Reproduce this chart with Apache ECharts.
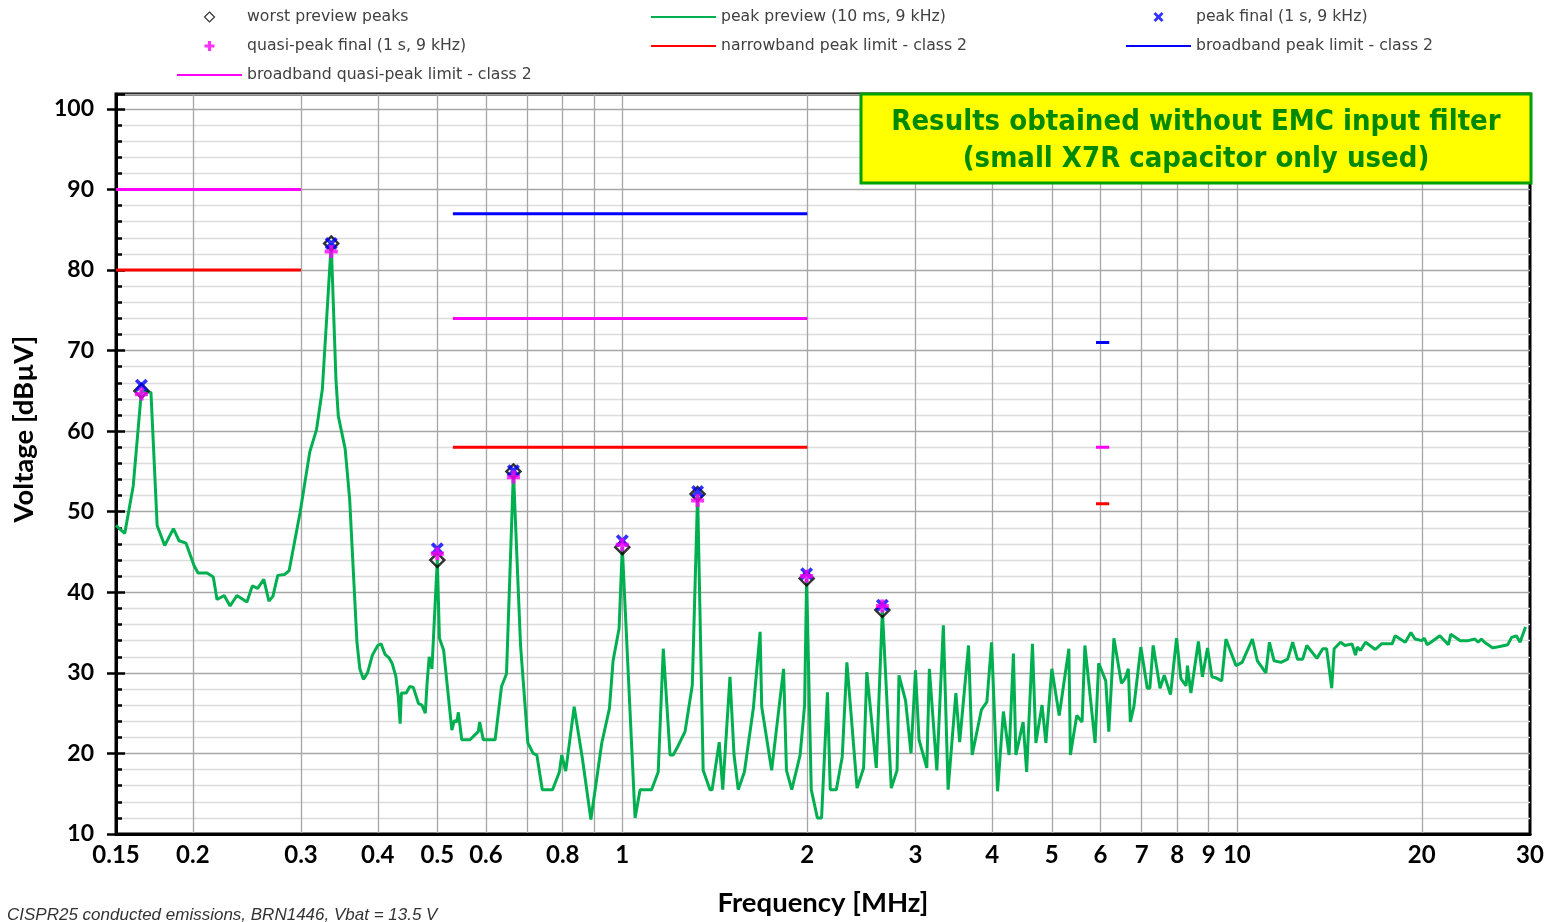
<!DOCTYPE html>
<html>
<head>
<meta charset="utf-8">
<title>CISPR25 conducted emissions</title>
<script src="https://cdn.jsdelivr.net/npm/echarts@6/dist/echarts.min.js"></script>
<style>
html, body { margin: 0; padding: 0; background: #fff; }
#chart { width: 1556px; height: 922px; }
</style>
</head>
<body>
<div id="chart"></div>
<script>
// peak preview trace (MHz / dBuV)
var previewFreq = [
	0.150, 0.155, 0.160, 0.165, 0.171, 0.175, 0.180, 0.186, 0.190, 0.195,
	0.201, 0.204, 0.211, 0.216, 0.219, 0.225, 0.230, 0.236, 0.245, 0.250,
	0.255, 0.261, 0.266, 0.270, 0.275, 0.282, 0.287, 0.299, 0.310, 0.318,
	0.325, 0.336, 0.342, 0.345, 0.354, 0.360, 0.370, 0.374, 0.379, 0.385,
	0.392, 0.400, 0.405, 0.411, 0.417, 0.422, 0.428, 0.432, 0.435, 0.437,
	0.445, 0.451, 0.457, 0.466, 0.472, 0.478, 0.481, 0.485, 0.490, 0.500,
	0.504, 0.512, 0.528, 0.533, 0.538, 0.541, 0.548, 0.565, 0.583, 0.586,
	0.594, 0.621, 0.636, 0.648, 0.665, 0.683, 0.702, 0.716, 0.726, 0.741,
	0.770, 0.790, 0.797, 0.809, 0.835, 0.861, 0.889, 0.926, 0.953, 0.966,
	0.988, 1.000, 1.049, 1.069, 1.116, 1.144, 1.166, 1.196, 1.210, 1.230,
	1.265, 1.300, 1.326, 1.354, 1.389, 1.400, 1.438, 1.457, 1.497, 1.520,
	1.544, 1.580, 1.634, 1.676, 1.686, 1.750, 1.760, 1.830, 1.850, 1.887,
	1.947, 1.980, 1.995, 2.030, 2.077, 2.110, 2.157, 2.180, 2.230, 2.280,
	2.320, 2.410, 2.470, 2.500, 2.590, 2.650, 2.740, 2.800, 2.820, 2.890,
	2.950, 3.000, 3.040, 3.130, 3.160, 3.250, 3.330, 3.390, 3.490, 3.540,
	3.660, 3.710, 3.840, 3.920, 3.990, 4.080, 4.170, 4.260, 4.330, 4.370,
	4.490, 4.550, 4.650, 4.710, 4.820, 4.890, 5.000, 5.140, 5.330, 5.360,
	5.490, 5.600, 5.660, 5.880, 5.960, 6.120, 6.190, 6.310, 6.490, 6.580,
	6.660, 6.710, 6.800, 6.980, 7.150, 7.220, 7.310, 7.500, 7.620, 7.800,
	7.980, 8.110, 8.270, 8.310, 8.420, 8.660, 8.790, 8.960, 9.110, 9.230,
	9.450, 9.600, 9.970, 10.20, 10.60, 10.80, 11.15, 11.30, 11.50, 11.80,
	12.10, 12.33, 12.55, 12.80, 13.00, 13.50, 13.80, 14.00, 14.27, 14.40,
	14.75, 15.00, 15.40, 15.60, 15.70, 15.90, 16.20, 16.80, 17.20, 17.90,
	18.10, 18.80, 19.20, 19.50, 20.00, 20.20, 20.40, 20.70, 21.40, 22.10,
	22.30, 23.10, 23.80, 24.40, 24.70, 25.00, 25.30, 26.10, 26.90, 27.60,
	28.00, 28.50, 28.90, 29.50
];
var previewLevel = [
	48.3, 47.3, 53.2, 65.0, 64.8, 48.3, 45.8, 47.9, 46.4, 46.1,
	43.3, 42.4, 42.4, 41.9, 39.1, 39.6, 38.3, 39.6, 38.8, 40.8,
	40.5, 41.6, 38.9, 39.5, 42.1, 42.2, 42.7, 49.9, 57.4, 60.2,
	65.2, 83.3, 66.4, 61.9, 57.8, 51.6, 33.8, 30.5, 29.2, 30.0,
	32.2, 33.4, 33.6, 32.3, 31.9, 31.2, 29.6, 27.0, 23.7, 27.5,
	27.5, 28.3, 28.2, 26.2, 26.0, 25.0, 28.5, 32.0, 30.5, 44.0,
	34.3, 32.8, 22.9, 24.1, 23.9, 25.1, 21.7, 21.7, 22.7, 23.9,
	21.7, 21.7, 28.3, 29.9, 55.0, 33.4, 21.3, 20.0, 19.8, 15.5,
	15.5, 17.7, 19.8, 17.8, 25.8, 19.4, 11.8, 21.3, 25.6, 31.5,
	35.5, 45.6, 12.0, 15.5, 15.5, 17.7, 33.0, 19.8, 19.8, 20.8,
	22.7, 28.5, 52.2, 17.9, 15.5, 15.5, 21.4, 15.5, 29.5, 19.8,
	15.5, 17.7, 25.6, 35.1, 25.8, 17.9, 17.9, 30.5, 17.9, 15.5,
	19.8, 26.0, 41.7, 15.5, 12.0, 12.0, 27.6, 15.5, 15.5, 19.6,
	31.3, 15.7, 18.2, 30.1, 18.2, 37.8, 15.7, 17.9, 29.7, 26.6,
	20.0, 30.3, 21.7, 18.2, 30.5, 17.9, 35.9, 15.5, 27.5, 21.4,
	33.4, 19.8, 25.4, 26.4, 33.8, 15.3, 25.2, 19.8, 32.4, 19.8,
	23.9, 17.7, 33.6, 21.3, 26.0, 21.3, 30.5, 24.7, 33.0, 19.8,
	24.7, 23.9, 33.4, 21.3, 31.2, 29.0, 22.7, 34.3, 28.7, 29.3,
	30.5, 23.9, 25.8, 33.2, 28.1, 28.1, 33.4, 28.1, 29.7, 27.3,
	34.3, 29.3, 28.4, 30.9, 27.5, 33.9, 29.5, 33.1, 29.5, 29.4,
	29.0, 34.2, 30.9, 31.3, 34.2, 31.5, 30.0, 33.8, 31.5, 31.3,
	31.7, 33.8, 31.7, 31.7, 33.4, 31.8, 33.0, 33.0, 28.1, 33.0,
	33.8, 33.4, 33.6, 32.2, 33.2, 32.8, 33.8, 32.9, 33.6, 33.6,
	34.6, 33.8, 35.0, 34.2, 34.0, 34.3, 33.5, 33.8, 34.6, 33.5,
	34.8, 34.0, 34.0, 34.2, 33.8, 34.2, 33.8, 33.1, 33.3, 33.5,
	34.4, 34.6, 33.8, 35.7
];

// detected peaks
var peakFreq = [0.165, 0.336, 0.500, 0.665, 1.000, 1.326, 1.995, 2.650];
var worstPreview = [65.0, 83.3, 44.0, 55.0, 45.6, 52.2, 41.7, 37.8];
var peakFinal = [65.7, 83.3, 45.4, 55.1, 46.4, 52.5, 42.3, 38.4];
var quasiPeakFinal = [64.6, 82.3, 44.8, 54.3, 45.9, 51.4, 42.0, 38.3];

// CISPR25 class 2 limits, one entry per band
var narrowStart = [0.15, 0.53, 5.9];
var narrowEnd = [0.30, 2.0, 6.2];
var narrowLevel = [80, 58, 51];
var bbPeakStart = [0.53, 5.9];
var bbPeakEnd = [2.0, 6.2];
var bbPeakLevel = [87, 71];
var bbQpStart = [0.15, 0.53, 5.9];
var bbQpEnd = [0.30, 2.0, 6.2];
var bbQpLevel = [90, 74, 58];

// x axis
var freqLabels = [0.15, 0.2, 0.3, 0.4, 0.5, 0.6, 0.8, 1, 2, 3, 4, 5, 6, 7, 8, 9, 10, 20, 30];
var freqGrid = [0.2, 0.3, 0.4, 0.5, 0.6, 0.7, 0.8, 0.9, 1, 2, 3, 4, 5, 6, 7, 8, 9, 10, 20];

function lg(f) { return Math.log10(f); }

function pairs(freqs, levels) {
	return freqs.map(function (f, i) { return [lg(f), levels[i]]; });
}

function segments(starts, ends, levels) {
	var out = [];
	for (var i = 0; i < starts.length; i++) {
		if (i > 0) out.push([lg(ends[i - 1]), '-']);
		out.push([lg(starts[i]), levels[i]]);
		out.push([lg(ends[i]), levels[i]]);
	}
	return out;
}

var diamondPath = 'path://M5,0 L10,5 L5,10 L0,5 Z';
var crossPath = 'path://M0,2 L2,0 L5,3 L8,0 L10,2 L7,5 L10,8 L8,10 L5,7 L2,10 L0,8 L3,5 Z';
var plusPath = 'path://M3.4,0 L6.6,0 L6.6,3.4 L10,3.4 L10,6.6 L6.6,6.6 L6.6,10 L3.4,10 L3.4,6.6 L0,6.6 L0,3.4 L3.4,3.4 Z';

var labelFont = 'Lato';
var legendText = { fontFamily: 'DejaVu Sans', fontSize: 15.7, color: '#404040' };
var noDot = { opacity: 0 };

function limitSeries(name, color, data) {
	return {
		name: name, type: 'line', data: data, symbol: 'none', connectNulls: false,
		lineStyle: { color: color, width: 3 }, itemStyle: { color: color },
		z: 3
	};
}

function legendColumn(left, items) {
	return {
		left: left, top: 9, padding: 0, orient: 'vertical',
		itemWidth: 65, itemHeight: 10, itemGap: 13,
		textStyle: legendText, data: items
	};
}

var myChart = echarts.init(document.getElementById('chart'));

var option = {
	animation: false,
	backgroundColor: '#fff',
	legend: [
		legendColumn(176, [
			{ name: 'worst preview peaks', itemStyle: { borderWidth: 1.2 } },
			'quasi-peak final (1 s, 9 kHz)',
			{ name: 'broadband quasi-peak limit - class 2', itemStyle: noDot }
		]),
		legendColumn(650, [
			{ name: 'peak preview (10 ms, 9 kHz)', itemStyle: noDot },
			{ name: 'narrowband peak limit - class 2', itemStyle: noDot }
		]),
		legendColumn(1125, [
			'peak final (1 s, 9 kHz)',
			{ name: 'broadband peak limit - class 2', itemStyle: noDot }
		])
	],
	grid: {
		left: 116, right: 26, top: 94, bottom: 86,
		show: true, borderColor: '#000', borderWidth: 3
	},
	xAxis: {
		type: 'value',
		min: lg(0.15), max: lg(30),
		name: 'Frequency [MHz]', nameLocation: 'middle', nameGap: 55,
		nameTextStyle: { fontFamily: labelFont, fontWeight: 'bold', fontSize: 27.5, color: '#000' },
		axisLine: { show: true, onZero: false, lineStyle: { color: '#000', width: 3 } },
		axisTick: { show: false, customValues: freqGrid.map(lg) },
		axisLabel: {
			customValues: freqLabels.map(lg), margin: 9,
			fontFamily: labelFont, fontWeight: 'bold', fontSize: 24, color: '#000',
			formatter: function (v) { return String(+Math.pow(10, v).toFixed(2)); }
		},
		splitLine: { show: true, lineStyle: { color: '#a6a6a6', width: 1.3 } }
	},
	yAxis: [
		{
			type: 'value', min: 10, max: 101.85, interval: 10, position: 'left',
			name: 'Voltage [dB\u00b5V]', nameLocation: 'middle', nameGap: 78,
			nameTextStyle: {
				fontFamily: labelFont, fontWeight: 'bold', fontSize: 27.5, color: '#000',
				padding: [0, 0, 0, 70]
			},
			axisLine: { show: true, onZero: false, lineStyle: { color: '#000', width: 3 } },
			axisTick: { show: true, inside: false, length: 9, lineStyle: { color: '#000', width: 2.5 } },
			axisLabel: {
				showMaxLabel: false, margin: 22,
				fontFamily: labelFont, fontWeight: 'bold', fontSize: 23, color: '#000'
			},
			splitLine: { show: true, lineStyle: { color: '#a6a6a6', width: 1.3 } },
			minorTick: { show: false, splitNumber: 5 },
			minorSplitLine: { show: true, lineStyle: { color: '#dcdcdc', width: 1.3 } }
		},
		{
			type: 'value', min: 10, max: 101.85, interval: 10, position: 'left',
			axisLine: { show: false, onZero: false },
			axisLabel: { show: false },
			axisTick: { show: true, inside: true, length: 9, lineStyle: { color: '#000', width: 2.5 } },
			minorTick: { show: true, splitNumber: 5, length: 6, lineStyle: { color: '#000', width: 2.5 } },
			splitLine: { show: false }
		}
	],
	series: [
		{
			name: 'peak preview (10 ms, 9 kHz)', type: 'line', symbol: 'none',
			data: pairs(previewFreq, previewLevel),
			lineStyle: { color: '#00b050', width: 3 }, itemStyle: { color: '#00b050' },
			z: 2
		},
		limitSeries('narrowband peak limit - class 2', '#ff0000', segments(narrowStart, narrowEnd, narrowLevel)),
		limitSeries('broadband peak limit - class 2', '#0000ff', segments(bbPeakStart, bbPeakEnd, bbPeakLevel)),
		limitSeries('broadband quasi-peak limit - class 2', '#ff00ff', segments(bbQpStart, bbQpEnd, bbQpLevel)),
		{
			name: 'worst preview peaks', type: 'scatter', symbol: diamondPath, symbolSize: 14,
			symbolKeepAspect: true,
			data: pairs(peakFreq, worstPreview),
			itemStyle: { color: 'rgba(255,255,255,0)', borderColor: '#000', borderWidth: 2.5 },
			z: 4
		},
		{
			name: 'peak final (1 s, 9 kHz)', type: 'scatter', symbol: crossPath, symbolSize: 13,
			symbolKeepAspect: true,
			data: pairs(peakFreq, peakFinal),
			itemStyle: { color: '#0000ff' },
			z: 5
		},
		{
			name: 'quasi-peak final (1 s, 9 kHz)', type: 'scatter', symbol: plusPath, symbolSize: 13,
			symbolKeepAspect: true,
			data: pairs(peakFreq, quasiPeakFinal),
			itemStyle: { color: '#ff00ff' },
			z: 6
		}
	],
	graphic: [
		{
			type: 'rect', z: 100,
			shape: { x: 861, y: 94, width: 670, height: 89 },
			style: { fill: '#ffff00', stroke: '#00a000', lineWidth: 3 }
		},
		{
			type: 'text', z: 101, x: 1196, y: 141,
			style: {
				text: 'Results obtained without EMC input filter\n(small X7R capacitor only used)',
				align: 'center', verticalAlign: 'middle', lineHeight: 37,
				fontFamily: 'DejaVu Sans Condensed', fontWeight: 'bold', fontSize: 29, fill: '#008a00'
			}
		},
		{
			type: 'text', z: 101, left: 7, top: 907,
			style: {
				text: 'CISPR25 conducted emissions, BRN1446, Vbat = 13.5 V',
				fontFamily: 'Liberation Sans', fontStyle: 'italic', fontSize: 17, fill: '#333'
			}
		}
	]
};

myChart.setOption(option);
</script>
</body>
</html>
